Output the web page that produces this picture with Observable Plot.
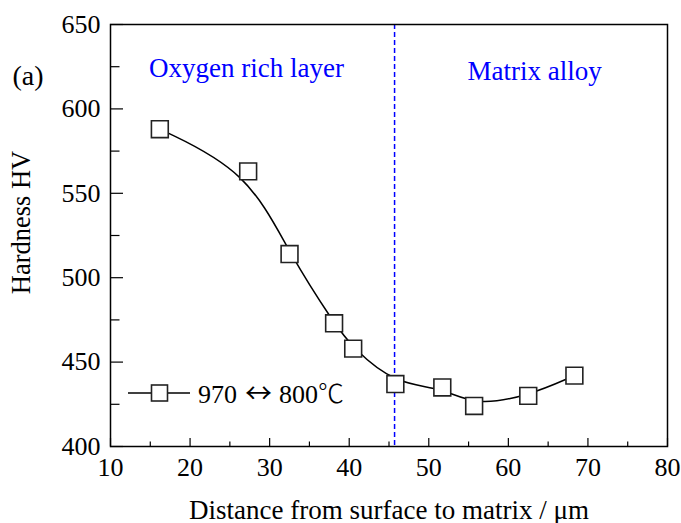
<!DOCTYPE html>
<html>
<head>
<meta charset="utf-8">
<script src="https://cdn.jsdelivr.net/npm/d3@7"></script>
<script src="https://cdn.jsdelivr.net/npm/@observablehq/plot@0.6"></script>
<style>
  body { margin: 0; background: #fff; }
  #wrap { position: relative; width: 681px; height: 523px; }
  #wrap svg { display: block; }
  #legend { position: absolute; left: 0; top: 0; pointer-events: none; }
</style>
</head>
<body>
<div id="wrap"></div>
<script>
// ---- data ----
const distance = [16.2, 27.3, 32.5, 38.1, 40.5, 45.8, 51.7, 55.7, 62.5, 68.3];
const hardness = [588, 563, 514, 473, 458, 437, 435, 424, 430, 442];
const xMajorTicks = [10, 20, 30, 40, 50, 60, 70, 80];
const xMinorTicks = [15, 25, 35, 45, 55, 65, 75];
const yMajorTicks = [400, 450, 500, 550, 600, 650];
const yMinorTicks = [425, 475, 525, 575, 625];
const boundaryX = [45.7];
const regionLabels = ["Oxygen rich layer", "Matrix alloy"];
const regionLabelX = [27.1, 63.3];
const regionLabelY = [624, 622];
const seriesTemp = ["970", "\u2194", "800", "\u2103"];
const panelLabel = "(a)";
const xTitle = "Distance from surface to matrix / \u03bcm";
const yTitle = "Hardness HV";

const points = distance.map((d, i) => ({x: d, y: hardness[i]}));
const regions = regionLabels.map((t, i) => ({label: t, x: regionLabelX[i], y: regionLabelY[i]}));

const W = 681, H = 523;
const font = "Liberation Serif";
const cjk = "Noto Sans CJK SC";

const chart = Plot.plot({
  width: W,
  height: H,
  marginLeft: 110,
  marginRight: 14,
  marginTop: 24,
  marginBottom: 77,
  style: {fontFamily: font, fontSize: "26px", color: "#000", background: "#fff", overflow: "visible"},
  x: {domain: [10, 80]},
  y: {domain: [400, 650]},
  marks: [
    Plot.axisX(xMajorTicks, {tickSize: 0, tickPadding: 11, fontSize: 26, fontFamily: font, label: null, fill: "#000"}),
    Plot.axisY(yMajorTicks, {tickSize: 0, tickPadding: 10, fontSize: 26, fontFamily: font, label: null, fill: "#000"}),
    Plot.text([xTitle], {frameAnchor: "bottom", dy: 72, fontSize: 27, fontFamily: font, lineAnchor: "bottom", fill: "#000"}),
    Plot.text([yTitle], {frameAnchor: "left", dx: -88.5, dy: -13, rotate: -90, textAnchor: "middle", fontSize: 26.5, fontFamily: font, fill: "#000"}),
    Plot.text([panelLabel], {frameAnchor: "top-left", dx: -82.5, dy: 41, fontSize: 28, fontFamily: font, textAnchor: "middle", fill: "#000"}),
    // inward ticks
    Plot.tickX(xMajorTicks, {x: d => d, insetTop: 422 - 8, stroke: "#000", strokeWidth: 1.2}),
    Plot.tickX(xMinorTicks, {x: d => d, insetTop: 422 - 4.5, stroke: "#000", strokeWidth: 1.2}),
    Plot.tickY(yMajorTicks, {y: d => d, insetRight: 553 - 9, stroke: "#000", strokeWidth: 1.2}),
    Plot.tickY(yMinorTicks, {y: d => d, insetRight: 553 - 5.5, stroke: "#000", strokeWidth: 1.2}),
    Plot.ruleX(boundaryX, {x: d => d, stroke: "#0000ff", strokeWidth: 1.5, strokeDasharray: "5,3"}),
    Plot.line(points, {x: "x", y: "y", curve: "basis", stroke: "#000", strokeWidth: 1.5}),
    Plot.dot(points, {x: "x", y: "y", symbol: "square", r: 9.5, fill: "#fff", stroke: "#222", strokeWidth: 1.6}),
    Plot.text(regions, {x: "x", y: "y", text: "label", fill: "#0000ff", fontSize: 27, fontFamily: font, textAnchor: "middle"}),
    Plot.frame({stroke: "#000", strokeWidth: 1.5})
  ]
});
document.getElementById("wrap").appendChild(chart);

// legend overlay
const leg = d3.select("#wrap").append("svg").attr("id", "legend")
  .attr("width", W).attr("height", H);
const ly = 393;
leg.append("line").attr("x1", 128).attr("x2", 190).attr("y1", ly).attr("y2", ly)
  .attr("stroke", "#000").attr("stroke-width", 1.5);
leg.append("rect").attr("x", 151.5).attr("y", ly - 8).attr("width", 16).attr("height", 16)
  .attr("fill", "#fff").attr("stroke", "#222").attr("stroke-width", 1.6);
const lt = leg.append("text").attr("x", 198).attr("y", ly + 10)
  .attr("font-family", font).attr("font-size", 26).attr("fill", "#000");
lt.append("tspan").text(seriesTemp[0]);
lt.append("tspan").attr("dx", 8).attr("font-family", cjk).attr("font-size", 27).text(seriesTemp[1]);
lt.append("tspan").attr("dx", 7).text(seriesTemp[2]);
lt.append("tspan").attr("font-family", cjk).attr("font-size", 26).attr("font-weight", 300).text(seriesTemp[3]);
</script>
</body>
</html>
